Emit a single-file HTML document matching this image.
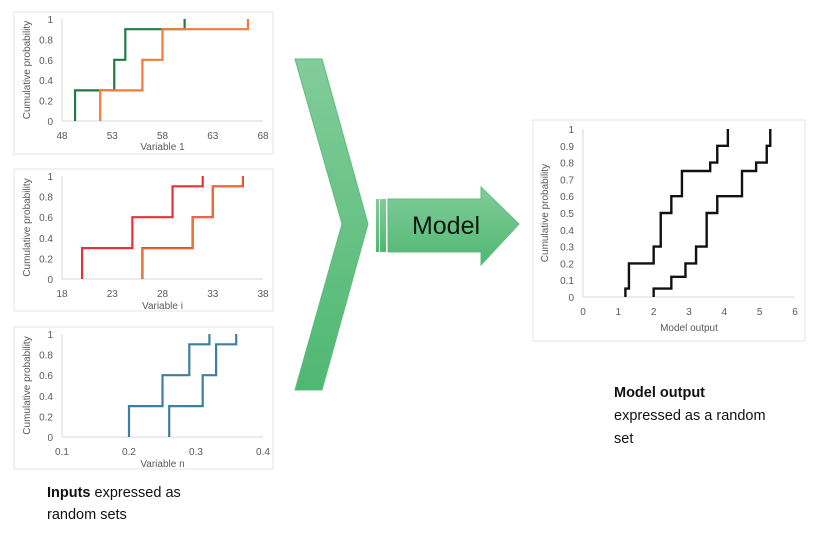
<!DOCTYPE html>
<html><head><meta charset="utf-8">
<style>
html,body{margin:0;padding:0;background:#fff;}
svg text{font-family:"Liberation Sans",sans-serif;}
.t{font-family:"Liberation Sans",sans-serif;font-size:14.5px;fill:#111;}
</style></head>
<body>
<svg id="s" width="816" height="532" viewBox="0 0 816 532" xmlns="http://www.w3.org/2000/svg">
<defs>
<linearGradient id="g" x1="0" y1="0" x2="0" y2="1">
<stop offset="0" stop-color="#82cc9a"/><stop offset="1" stop-color="#4fb872"/>
</linearGradient>
</defs>
<polygon points="295,59 322,59 368,224 322,390 295,390 342,224" fill="url(#g)" stroke="#5cbd7c" stroke-width="1"/>
<rect x="376" y="199" width="3" height="53" fill="url(#g)"/>
<rect x="380" y="199" width="6" height="53" fill="url(#g)"/>
<polygon points="388,199 481,199 481,187 519,224 481,265 481,252 388,252" fill="url(#g)" stroke="#5cbd7c" stroke-width="1"/>
<text x="446" y="234" font-size="25" text-anchor="middle" fill="#0a1a10" style="font-family:'Liberation Sans',sans-serif">Model</text>
<text class="t" x="47" y="497"><tspan font-weight="bold">Inputs</tspan> expressed as</text>
<text class="t" x="47" y="519">random sets</text>
<text class="t" x="614" y="397" font-weight="bold">Model output</text>
<text class="t" x="614" y="420">expressed as a random</text>
<text class="t" x="614" y="443">set</text>
</svg>
<script>
var s=document.getElementById('s'),NS='http://www.w3.org/2000/svg';
function el(n,a,t){var e=document.createElementNS(NS,n);for(var k in a)e.setAttribute(k,a[k]);if(t!==undefined)e.textContent=t;s.appendChild(e);return e;}
function chart(o){
 el('rect',{x:o.fx,y:o.fy,width:o.fw,height:o.fh,fill:'#fff',stroke:'#e4e4e4'});
 var X=function(v){return o.x0+(v-o.xmin)/(o.xmax-o.xmin)*(o.x1-o.x0);};
 var Y=function(v){return o.y0-(v)*(o.y0-o.y1);};
 el('line',{x1:o.x0,y1:o.y0,x2:o.x1,y2:o.y0,stroke:'#d9d9d9'});
 el('line',{x1:o.x0,y1:o.y0,x2:o.x0,y2:o.y1,stroke:'#d9d9d9'});
 o.yt.forEach(function(v){el('text',{x:o.x0-9,y:Y(v)+4,'font-size':10,'text-anchor':'end',fill:'#595959'},String(v));});
 o.xt.forEach(function(v){el('text',{x:X(v),y:o.y0+18,'font-size':10,'text-anchor':'middle',fill:'#595959'},String(v));});
 el('text',{x:(o.x0+o.x1)/2,y:o.ty,'font-size':10,'text-anchor':'middle',fill:'#595959'},o.title);
 var cy=(o.y0+o.y1)/2;
 el('text',{x:o.yx,y:cy,'font-size':10,'text-anchor':'middle',fill:'#595959',transform:'rotate(-90 '+o.yx+' '+cy+')'},'Cumulative probability');
 o.curves.forEach(function(c){
  var xs=c.x,ys=c.y,d='M'+X(xs[0])+' '+Y(0);
  for(var i=0;i<xs.length;i++){d+=' L'+X(xs[i])+' '+Y(ys[i]);if(i+1<xs.length)d+=' L'+X(xs[i+1])+' '+Y(ys[i]);}
  el('path',{d:d,fill:'none',stroke:c.col,'stroke-width':c.w||2.2});
  if(c.col2)el('path',{d:d,fill:'none',stroke:c.col2,'stroke-width':0.8});
 });
}
var py=[0,0.2,0.4,0.6,0.8,1];
chart({fx:14,fy:12,fw:259,fh:142,x0:62,x1:263,y0:121,y1:19,xmin:48,xmax:68,xt:[48,53,58,63,68],yt:py,ty:150,yx:30,title:'Variable 1',
 curves:[{x:[49.3,53.2,54.3,60.2],y:[0.3,0.6,0.9,1],col:'#1f7a45'},{x:[51.8,56,58,66.5],y:[0.3,0.6,0.9,1],col:'#f47b3a'}]});
chart({fx:14,fy:169,fw:259,fh:142,x0:62,x1:263,y0:279,y1:176,xmin:18,xmax:38,xt:[18,23,28,33,38],yt:py,ty:309,yx:30,title:'Variable i',
 curves:[{x:[20,25,29,32],y:[0.3,0.6,0.9,1],col:'#e8303a'},{x:[26,31,33,36],y:[0.3,0.6,0.9,1],col:'#e8303a',col2:'#f08a3a'}]});
chart({fx:14,fy:327,fw:259,fh:142,x0:62,x1:263,y0:437,y1:334,xmin:0.1,xmax:0.4,xt:[0.1,0.2,0.3,0.4],yt:py,ty:467,yx:30,title:'Variable n',
 curves:[{x:[0.2,0.25,0.29,0.32],y:[0.3,0.6,0.9,1],col:'#3d7fa0'},{x:[0.26,0.31,0.33,0.36],y:[0.3,0.6,0.9,1],col:'#3d7fa0'}]});
chart({fx:533,fy:120,fw:272,fh:221,x0:583,x1:795,y0:297,y1:129,xmin:0,xmax:6,xt:[0,1,2,3,4,5,6],yt:[0,0.1,0.2,0.3,0.4,0.5,0.6,0.7,0.8,0.9,1],ty:331,yx:548,title:'Model output',
 curves:[{x:[1.2,1.3,2,2.2,2.5,2.8,3.6,3.8,4.1],y:[0.05,0.2,0.3,0.5,0.6,0.75,0.8,0.9,1],col:'#111',w:2.4},
 {x:[2,2.5,2.9,3.2,3.5,3.8,4.5,4.9,5.2,5.3],y:[0.05,0.12,0.2,0.3,0.5,0.6,0.75,0.8,0.9,1],col:'#111',w:2.4}]});
</script>
</body></html>
